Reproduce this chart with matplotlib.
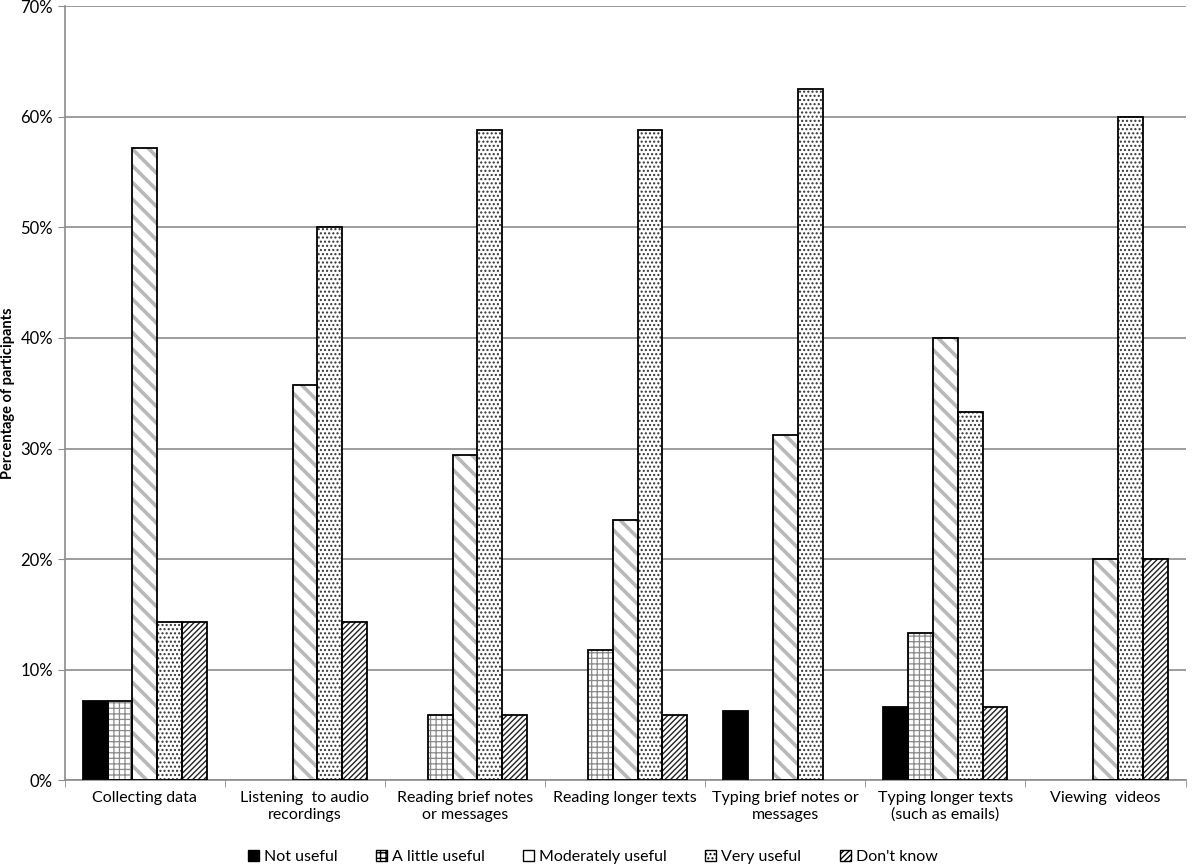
import numpy as np
import matplotlib.pyplot as plt
from matplotlib.patches import Patch
from matplotlib.ticker import PercentFormatter

categorias = [
    "Collecting data",
    "Listening  to audio\nrecordings",
    "Reading brief notes\nor messages",
    "Reading longer texts",
    "Typing brief notes or\nmessages",
    "Typing longer texts\n(such as emails)",
    "Viewing  videos",
]
not_useful = [7.14, 0, 0, 0, 6.25, 6.67, 0]
a_little_useful = [7.14, 0, 5.88, 11.76, 0, 13.33, 0]
moderately_useful = [57.14, 35.71, 29.41, 23.53, 31.25, 40.0, 20.0]
very_useful = [14.29, 50.0, 58.82, 58.82, 62.5, 33.33, 60.0]
dont_know = [14.29, 14.29, 5.88, 5.88, 0, 6.67, 20.0]

series = {
    "Not useful": not_useful,
    "A little useful": a_little_useful,
    "Moderately useful": moderately_useful,
    "Very useful": very_useful,
    "Don't know": dont_know,
}

# estilo: (relleno, hatch, color hatch, grosor hatch)
estilos = {
    "Not useful": ("black", None, "black", 1.0),
    "A little useful": ("white", "+++", "#8a8a8a", 0.9),
    "Moderately useful": ("white", "\\\\", "#b8b8b8", 2.6),
    "Very useful": ("white", "....", "#333333", 1.0),
    "Don't know": ("white", "//////", "#222222", 1.0),
}

plt.rcParams["font.family"] = ["Lato", "DejaVu Sans"]

fig, ax = plt.subplots(figsize=(12, 8.68), dpi=100)
fig.subplots_adjust(left=0.054, right=0.988, top=0.993, bottom=0.101)

x = np.arange(len(categorias))
ancho = 0.155
handles = []
for i, (nombre, valores) in enumerate(series.items()):
    relleno, hatch, chatch, lw_hatch = estilos[nombre]
    valores = np.array(valores)
    pos = x + (i - 2) * ancho
    hay = valores > 0
    with plt.rc_context({"hatch.linewidth": lw_hatch}):
        ax.bar(pos[hay], valores[hay], ancho, color=relleno, hatch=hatch,
               edgecolor=chatch, linewidth=0, zorder=2)
    ax.bar(pos[hay], valores[hay], ancho, fill=False, edgecolor="black",
           linewidth=1.3, zorder=3)
    # el icono de "Moderately useful" en la leyenda es un cuadro liso
    hatch_ley = None if nombre == "Moderately useful" else hatch
    with plt.rc_context({"hatch.linewidth": min(lw_hatch, 1.0)}):
        handles.append(Patch(facecolor=relleno, hatch=hatch_ley, edgecolor="black",
                             linewidth=1.0, label=nombre))

ax.set_xlim(-0.5, len(categorias) - 0.5)
ax.set_ylim(0, 70)
ax.yaxis.set_major_formatter(PercentFormatter(decimals=0))
ax.set_yticks(range(0, 71, 10))
ax.yaxis.grid(True, color="#8c8c8c", linewidth=1.2, zorder=0)
ax.set_axisbelow(True)

ax.set_xticks(x)
ax.set_xticklabels(categorias, fontsize=11.5)
ax.set_xticks(np.arange(-0.5, len(categorias)), minor=True)
ax.tick_params(axis="x", which="major", length=0, pad=8)
ax.tick_params(axis="x", which="minor", length=5, color="#8c8c8c", direction="out")
ax.tick_params(axis="y", length=5, color="#8c8c8c", labelsize=12)

ax.set_ylabel("Percentage of participants", fontsize=10.5, fontweight="bold", labelpad=4)

for lado in ["top", "right"]:
    ax.spines[lado].set_visible(False)
ax.spines["left"].set_color("#8c8c8c")
ax.spines["bottom"].set_color("#8c8c8c")
ax.spines["left"].set_linewidth(1.2)
ax.spines["bottom"].set_linewidth(1.2)

fig.legend(handles=handles, loc="lower center", ncol=5, frameon=False,
           fontsize=11.5, bbox_to_anchor=(0.494, -0.012), handlelength=0.7,
           handleheight=0.7, handletextpad=0.3, columnspacing=2.4)

fig.savefig("out.png", dpi=100)
